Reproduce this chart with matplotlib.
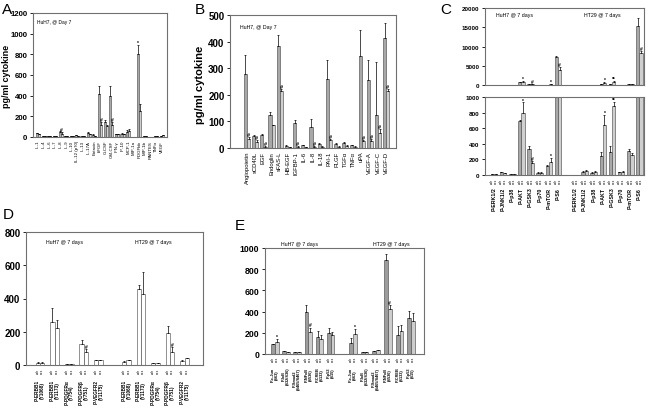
import numpy as np
import matplotlib.pyplot as plt

plt.rcParams['font.family'] = ['Liberation Sans', 'DejaVu Sans']

# ---- panel A (HuH7 cytokines) ----
a_cats = ['IL-1', 'IL-4', 'IL-6', 'IL-7', 'IL-8', 'IL-9', 'IL-10', 'IL-12 (p70)', 'IL-13',
          'IL-17A', 'Eotaxin', 'bFGF', 'G-CSF', 'GM-CSF', 'IFN-γ', 'IP-10', 'MCP-1',
          'MIP-1a', 'PDGFbb', 'MIP-1b', 'RANTES', 'TNFα', 'VEGF']
a_veh = [38, 5, 5, 8, 45, 10, 12, 15, 5, 40, 20, 420, 150, 400, 25, 30, 50, 3, 800, 5, 3, 5, 5]
a_veh_err = [5, 1, 1, 2, 10, 2, 2, 3, 1, 8, 5, 70, 15, 90, 5, 5, 20, 1, 90, 1, 1, 1, 1]
a_tx = [25, 5, 5, 8, 28, 10, 10, 12, 5, 25, 10, 120, 110, 120, 25, 25, 60, 3, 250, 5, 3, 5, 15]
a_tx_err = [3, 1, 1, 2, 20, 2, 2, 2, 1, 5, 3, 25, 10, 30, 4, 5, 15, 1, 70, 1, 1, 1, 3]
a_mark_veh = [''] * 18 + ['*'] + [''] * 4
a_mark_tx = ['', '', '', '', '#', '', '', '', '', '', '', '#', '', '#', '', '', '', '', '', '', '', '', '']

# ---- panel B (HuH7 angiogenic factors) ----
b_cats = ['Angiopoietin', 'sCD40L', 'EGF', 'Endoglin', 'sFAS-L', 'HB-EGF', 'IGFBP-1', 'IL-6',
          'IL-8', 'IL-18', 'PAI-1', 'PLGF', 'TGFα', 'TNFα', 'uPA', 'VEGF-A', 'VEGF-C', 'VEGF-D']
b_veh = [280, 45, 50, 125, 385, 8, 95, 10, 80, 15, 260, 15, 18, 10, 345, 255, 125, 415]
b_veh_err = [70, 5, 2, 12, 40, 2, 10, 2, 30, 5, 70, 3, 5, 2, 100, 75, 200, 55]
b_tx = [35, 22, 5, 85, 215, 4, 5, 4, 5, 5, 30, 5, 8, 5, 25, 28, 55, 215]
b_tx_err = [5, 8, 1, 3, 5, 1, 1, 1, 1, 1, 5, 1, 2, 1, 5, 5, 15, 5]
b_mark_tx = ['#', '#', '#', '', '#', '', '#', '', '#', '', '#', '', '', '', '#', '#', '#', '#']

# ---- panel C (signalling, two cell lines) ----
c_cats = ['P-ERK1/2', 'P-JNK1/2', 'P-p38', 'P-AKT', 'P-GSK3', 'P-p70', 'P-mTOR', 'P-S6']
c_huh7_veh = [10, 35, 15, 690, 330, 30, 110, 7300]
c_huh7_veh_err = [3, 5, 3, 20, 40, 3, 15, 300]
c_huh7_tx = [8, 20, 15, 800, 155, 30, 165, 4000]
c_huh7_tx_err = [2, 5, 3, 130, 20, 3, 50, 700]
c_huh7_mark = ['', '', '', '*', '#', '', '*', '#']
c_ht29_veh = [5, 40, 30, 250, 290, 35, 310, 15400]
c_ht29_veh_err = [1, 5, 5, 45, 85, 3, 20, 2000]
c_ht29_tx = [5, 55, 40, 645, 890, 40, 255, 8200]
c_ht29_tx_err = [1, 8, 5, 130, 50, 5, 30, 700]
c_ht29_mark = ['', '', '', '*', '**', '', '', '#']

# ---- panel D (receptor phosphorylation) ----
d_cats = ['P-ERBB1\n(Y1068)', 'P-ERBB1\n(Y1173)', 'P-PDGFRα\n(Y754)', 'P-PDGFRβ\n(Y751)', 'P-VEGFR2\n(Y1175)']
d_huh7_veh = [15, 260, 5, 125, 30]
d_huh7_veh_err = [2, 85, 1, 25, 3]
d_huh7_tx = [15, 220, 5, 80, 28]
d_huh7_tx_err = [2, 50, 1, 15, 3]
d_huh7_mark = ['', '', '', '#', '']
d_ht29_veh = [20, 460, 10, 190, 25]
d_ht29_veh_err = [3, 20, 2, 45, 3]
d_ht29_tx = [30, 430, 12, 80, 40]
d_ht29_tx_err = [3, 130, 2, 30, 5]
d_ht29_mark = ['', '', '', '#', '']

# ---- panel E (transcription factors) ----
e_cats = ['P-c-Jun\n(S63)', 'P-IκB\n(S32/S36)', 'P-Smad2\n(S465/S467)', 'P-NFκB\n(S536)',
          'P-CREB\n(S133)', 'P-p53\n(S15)']
e_huh7_veh = [90, 30, 20, 400, 160, 195]
e_huh7_veh_err = [5, 3, 3, 65, 60, 55]
e_huh7_tx = [110, 15, 20, 210, 145, 175]
e_huh7_tx_err = [30, 3, 3, 40, 30, 35]
e_huh7_mark = ['*', '', '', '#', '', '']
e_ht29_veh = [105, 20, 25, 890, 180, 337]
e_ht29_veh_err = [45, 3, 4, 55, 85, 65]
e_ht29_tx = [190, 20, 35, 420, 220, 315]
e_ht29_tx_err = [45, 3, 5, 40, 55, 75]
e_ht29_mark = ['*', '', '', '#', '', '']

pair_labels = ['veh', 'e+s']


def box(x0, y0, x1, y1):
    return [x0 / 650, 1 - y1 / 410, (x1 - x0) / 650, (y1 - y0) / 410]


def style(ax, fs):
    for s in ax.spines.values():
        s.set_color('#707070')
        s.set_linewidth(0.8)
    ax.tick_params(axis='y', labelsize=fs, length=2, width=0.6, pad=2)
    for t in ax.get_yticklabels():
        t.set_fontweight('bold')


def pairs(ax, x, veh, veh_err, tx, tx_err, w, c1, c2, marks_veh=None, marks_tx=None, mfs=4):
    x = np.asarray(x, dtype=float)
    veh, tx = np.asarray(veh, float), np.asarray(tx, float)
    veh_err, tx_err = np.asarray(veh_err, float), np.asarray(tx_err, float)
    top = ax.get_ylim()[1]
    for xs, v, e, c, m in [(x - w / 2, veh, veh_err, c1, marks_veh), (x + w / 2, tx, tx_err, c2, marks_tx)]:
        ax.bar(xs, v, w, color=c, edgecolor='#404040', lw=0.4)
        ax.errorbar(xs, v, yerr=[np.zeros_like(e), e], fmt='none', ecolor='k',
                    elinewidth=0.5, capsize=1.0, capthick=0.5)
        if m:
            for xi, vi, ei, mi in zip(xs, v, e, m):
                if mi and vi + ei < top:
                    ax.text(xi, vi + ei, mi, ha='center', va='bottom', fontsize=mfs,
                            fontweight='bold')


def under_labels(ax, x, cats, w, y_pair, y_cat, fs_pair, fs_cat):
    tr = ax.get_xaxis_transform()
    for xi, cat in zip(x, cats):
        for dx, lab in zip([-w / 2, w / 2], pair_labels):
            ax.text(xi + dx, y_pair, lab, transform=tr, rotation=90, ha='center', va='top',
                    fontsize=fs_pair)
        ax.text(xi, y_cat, cat, transform=tr, rotation=90, ha='center', va='top',
                fontsize=fs_cat, fontweight='bold', linespacing=1.0)


fig = plt.figure(figsize=(6.5, 4.1), dpi=100)

# ---------- A ----------
ax = fig.add_axes(box(33, 14, 167, 138))
ax.set_ylim(0, 1200)
xa = np.arange(len(a_cats))
pairs(ax, xa, a_veh, a_veh_err, a_tx, a_tx_err, 0.36, '#a8a8a8', '#cfcfcf', a_mark_veh, a_mark_tx, 3.5)
ax.set_xlim(-0.9, 22.9)
ax.set_yticks(np.arange(0, 1201, 200))
ax.set_xticks(xa, a_cats, rotation=90, fontsize=3.2)
ax.tick_params(axis='x', length=0, pad=2)
style(ax, 5.6)
ax.set_ylabel('pg/ml cytokine', fontsize=6.5, fontweight='bold')
ax.yaxis.set_label_coords(-0.165, 0.5)
ax.text(0.03, 0.95, 'HuH7, @ Day 7', transform=ax.transAxes, fontsize=3.5, va='top')
fig.text(2 / 650, 1 - 14 / 410, 'A', fontsize=11)

# ---------- B ----------
ax = fig.add_axes(box(230, 16, 396, 149))
ax.set_ylim(0, 500)
xb = np.arange(len(b_cats))
pairs(ax, xb, b_veh, b_veh_err, b_tx, b_tx_err, 0.38, '#a8a8a8', '#cfcfcf', None, b_mark_tx, 4)
ax.set_xlim(-2.08, 18.2)
ax.set_yticks(np.arange(0, 501, 100))
ax.set_xticks(xb, b_cats, rotation=90, fontsize=4.2)
ax.tick_params(axis='x', length=0, pad=2)
style(ax, 7)
ax.set_ylabel('pg/ml cytokine', fontsize=8, fontweight='bold')
ax.yaxis.set_label_coords(-0.15, 0.48)
ax.text(0.06, 0.93, 'HuH7, @ Day 7', transform=ax.transAxes, fontsize=3.8, va='top')
fig.text(195 / 650, 1 - 14 / 410, 'B', fontsize=11)

# ---------- C ----------
xc1 = np.arange(len(c_cats))
xc2 = np.arange(len(c_cats)) + 8.9
for ylim, step, rect, top in [((0, 20000), 5000, box(485, 9, 644, 86), True),
                              ((0, 1000), 200, box(485, 98, 644, 176), False)]:
    ax = fig.add_axes(rect)
    ax.set_ylim(*ylim)
    pairs(ax, xc1, c_huh7_veh, c_huh7_veh_err, c_huh7_tx, c_huh7_tx_err, 0.36,
          '#a8a8a8', '#cfcfcf', None, c_huh7_mark, 3.5)
    pairs(ax, xc2, c_ht29_veh, c_ht29_veh_err, c_ht29_tx, c_ht29_tx_err, 0.36,
          '#a8a8a8', '#cfcfcf', None, c_ht29_mark, 3.5)
    ax.set_xlim(-0.98, 16.4)
    ax.set_yticks(np.arange(ylim[0], ylim[1] + 1, step))
    ax.set_xticks([])
    style(ax, 4.5)
    if top:
        ax.text(2.2, 0.9, 'HuH7 @ 7 days', transform=ax.get_xaxis_transform(), fontsize=3.8, ha='center')
        ax.text(11.8, 0.9, 'HT29 @ 7 days', transform=ax.get_xaxis_transform(), fontsize=3.8, ha='center')
    else:
        under_labels(ax, xc1, c_cats, 0.36, -0.03, -0.15, 2.3, 3.8)
        under_labels(ax, xc2, c_cats, 0.36, -0.03, -0.15, 2.3, 3.8)
fig.text(440 / 650, 1 - 14 / 410, 'C', fontsize=11)

# ---------- D ----------
ax = fig.add_axes(box(26, 233, 203, 366))
ax.set_ylim(0, 800)
xd1 = np.arange(len(d_cats))
xd2 = np.arange(len(d_cats)) + 5.93
pairs(ax, xd1, d_huh7_veh, d_huh7_veh_err, d_huh7_tx, d_huh7_tx_err, 0.3, 'white', 'white', None, d_huh7_mark, 3.5)
pairs(ax, xd2, d_ht29_veh, d_ht29_veh_err, d_ht29_tx, d_ht29_tx_err, 0.3, 'white', 'white', None, d_ht29_mark, 3.5)
ax.set_xlim(-0.97, 11.2)
ax.set_yticks(np.arange(0, 801, 200))
ax.set_xticks([])
style(ax, 7)
ax.text(1.7, 0.92, 'HuH7 @ 7 days', transform=ax.get_xaxis_transform(), fontsize=3.8, ha='center')
ax.text(7.8, 0.92, 'HT29 @ 7 days', transform=ax.get_xaxis_transform(), fontsize=3.8, ha='center')
under_labels(ax, xd1, d_cats, 0.3, -0.02, -0.105, 2.3, 3.4)
under_labels(ax, xd2, d_cats, 0.3, -0.02, -0.105, 2.3, 3.4)
fig.text(3 / 650, 1 - 219 / 410, 'D', fontsize=11)

# ---------- E ----------
ax = fig.add_axes(box(265, 249, 424, 355))
ax.set_ylim(0, 1000)
xe1 = np.arange(len(e_cats))
xe2 = np.arange(len(e_cats)) * 1.05 + 7.0
pairs(ax, xe1, e_huh7_veh, e_huh7_veh_err, e_huh7_tx, e_huh7_tx_err, 0.34, '#9c9c9c', '#cdcdcd', None, e_huh7_mark, 3.5)
pairs(ax, xe2, e_ht29_veh, e_ht29_veh_err, e_ht29_tx, e_ht29_tx_err, 0.34, '#9c9c9c', '#cdcdcd', None, e_ht29_mark, 3.5)
ax.set_xlim(-0.9, 13.4)
ax.set_yticks(np.arange(0, 1001, 200))
ax.set_xticks([])
style(ax, 6.3)
ax.text(2.2, 1.03, 'HuH7 @ 7 days', transform=ax.get_xaxis_transform(), fontsize=3.8, ha='center')
ax.text(10.5, 1.03, 'HT29 @ 7 days', transform=ax.get_xaxis_transform(), fontsize=3.8, ha='center')
under_labels(ax, xe1, e_cats, 0.34, -0.02, -0.12, 2.3, 2.8)
under_labels(ax, xe2, e_cats, 0.34, -0.02, -0.12, 2.3, 2.8)
fig.text(235 / 650, 1 - 230 / 410, 'E', fontsize=11)

fig.savefig('out.png', dpi=100)
